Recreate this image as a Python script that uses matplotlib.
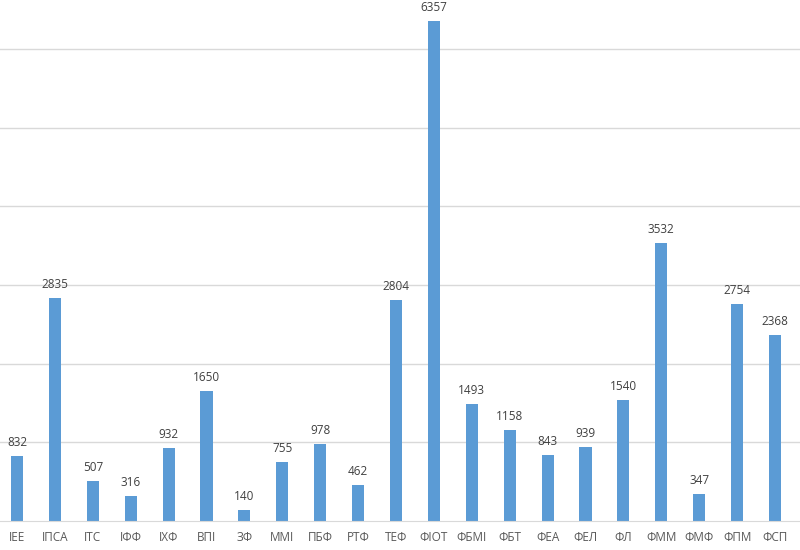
import matplotlib
matplotlib.use("Agg")
import matplotlib.pyplot as plt
import numpy as np

plt.rcParams['font.family'] = ['Open Sans', 'DejaVu Sans']

faculties = ['ІЕЕ', 'ІПСА', 'ІТС', 'ІФФ', 'ІХФ', 'ВПІ', 'ЗФ', 'ММІ', 'ПБФ', 'РТФ', 'ТЕФ',
             'ФІОТ', 'ФБМІ', 'ФБТ', 'ФЕА', 'ФЕЛ', 'ФЛ', 'ФММ', 'ФМФ', 'ФПМ', 'ФСП']
counts = [832, 2835, 507, 316, 932, 1650, 140, 755, 978, 462, 2804,
          6357, 1493, 1158, 843, 939, 1540, 3532, 347, 2754, 2368]

bar_color = '#5B9BD5'
grid_color = '#D9D9D9'

fig = plt.figure(figsize=(8, 5.5), dpi=100)
ax = fig.add_axes([0, 29 / 550, 1, 521 / 550])

x = np.arange(len(faculties))
ax.bar(x, counts, width=0.32, color=bar_color, zorder=2)

# value labels above each bar
for xi, v in zip(x, counts):
    ax.annotate(str(v), (xi, v), xytext=(0, 5), textcoords='offset points',
                ha='center', va='bottom', fontsize=8.5, color='#404040')

ax.set_xlim(-0.45, 20.66)
ax.set_ylim(0, 6623)
ax.set_yticks(np.arange(1000, 7000, 1000))
ax.yaxis.grid(True, color=grid_color, linewidth=1, zorder=0)
ax.tick_params(axis='y', left=False, labelleft=False)
ax.set_xticks(x)
ax.set_xticklabels(faculties, fontsize=8.5, color='#595959')
ax.tick_params(axis='x', length=0, pad=7)

for side in ['top', 'left', 'right']:
    ax.spines[side].set_visible(False)
ax.spines['bottom'].set_color(grid_color)

fig.savefig('out.png', dpi=100)
